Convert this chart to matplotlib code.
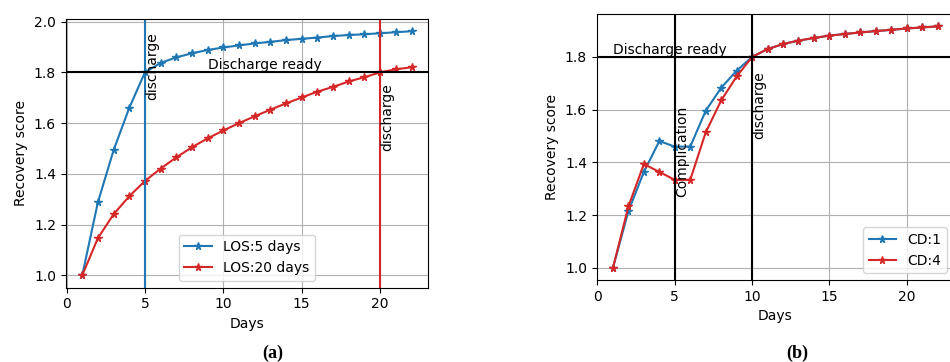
import numpy as np
import matplotlib
matplotlib.use('Agg')
import matplotlib.pyplot as plt

days = list(range(1, 23))

# (a) length of stay
los5 = [1.0, 1.288, 1.493, 1.660, 1.800, 1.837, 1.859, 1.875, 1.888, 1.898, 1.906,
        1.914, 1.920, 1.927, 1.932, 1.937, 1.943, 1.947, 1.950, 1.954, 1.958, 1.962]
los20 = [1.0, 1.147, 1.241, 1.312, 1.372, 1.421, 1.465, 1.505, 1.540, 1.571, 1.600,
         1.627, 1.653, 1.678, 1.701, 1.724, 1.743, 1.764, 1.781, 1.800, 1.812, 1.820]

# (b) complication
cd1 = [1.0, 1.215, 1.364, 1.481, 1.460, 1.460, 1.596, 1.683, 1.748, 1.800, 1.830,
       1.849, 1.862, 1.872, 1.881, 1.887, 1.893, 1.898, 1.903, 1.908, 1.912, 1.916]
cd4 = [1.0, 1.233, 1.394, 1.364, 1.334, 1.334, 1.514, 1.635, 1.726, 1.800, 1.830,
       1.849, 1.862, 1.872, 1.881, 1.887, 1.893, 1.898, 1.903, 1.908, 1.912, 1.916]

ready = 1.8
blue = '#1f77b4'
red = '#d62728'

plt.rcParams['font.family'] = ['DejaVu Sans']
plt.rcParams['font.size'] = 10

fig = plt.figure(figsize=(9.5, 3.62), dpi=100)
ax1 = fig.add_axes([0.0692, 0.2053, 0.3813, 0.7422])
ax2 = fig.add_axes([0.6281, 0.2265, 0.3760, 0.7340])

# left panel
ax1.plot(days, los5, color=blue, marker='*', markersize=5.5, label='LOS:5 days')
ax1.plot(days, los20, color=red, marker='*', markersize=5.5, label='LOS:20 days')
ax1.axvline(5, color=blue)
ax1.axvline(20, color=red)
ax1.axhline(ready, color='black')
ax1.text(9, ready, 'Discharge ready', va='bottom')
ax1.text(5, 1.69, 'discharge', rotation=90, ha='left', va='bottom')
ax1.text(20, 1.49, 'discharge', rotation=90, ha='left', va='bottom')
ax1.set_xlabel('Days')
ax1.set_ylabel('Recovery score')
ax1.grid(True)
ax1.legend(loc='lower center')

# right panel
ax2.plot(days, cd1, color=blue, marker='*', markersize=5.5, label='CD:1')
ax2.plot(days, cd4, color=red, marker='*', markersize=5.5, label='CD:4')
ax2.axvline(5, color='black')
ax2.axvline(10, color='black')
ax2.axhline(ready, color='black')
ax2.text(1, ready, 'Discharge ready', va='bottom')
ax2.text(5, 1.27, 'Complication', rotation=90, ha='left', va='bottom')
ax2.text(10, 1.49, 'discharge', rotation=90, ha='left', va='bottom')
ax2.set_xlabel('Days')
ax2.set_ylabel('Recovery score')
ax2.set_yticks([1.0, 1.2, 1.4, 1.6, 1.8])
ax2.grid(True)
ax2.legend(loc='lower right')

fig.text(0.287, 0.025, '(a)', ha='center', va='center', fontsize=13,
         fontweight='bold', family='Liberation Serif')
fig.text(0.839, 0.025, '(b)', ha='center', va='center', fontsize=13,
         fontweight='bold', family='Liberation Serif')

fig.savefig('out.png', dpi=100)
